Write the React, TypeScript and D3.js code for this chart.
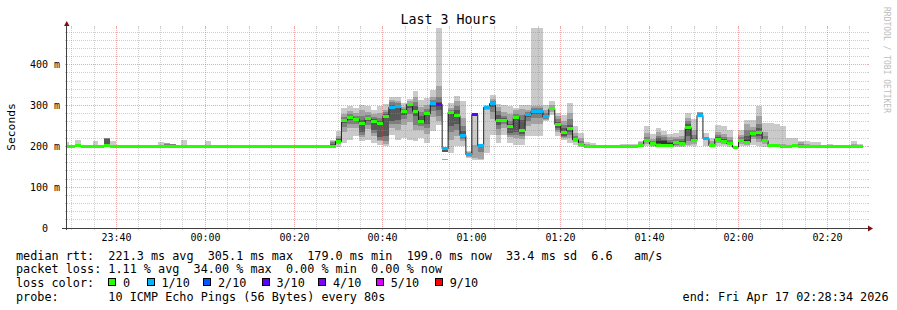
import React from 'react';
import * as d3 from 'd3';

// ---- time frame (UTC so the browser timezone does not matter) ----
const plotStart = new Date(Date.UTC(2026, 3, 16, 23, 28, 55));
const plotEnd = new Date(Date.UTC(2026, 3, 17, 2, 28, 55));
const firstStep = new Date(Date.UTC(2026, 3, 16, 23, 28, 0));
const stepSeconds = 80;

// ---- median rtt per 80 s step (ms) ----
const medianRtt: number[] = [
  199, 199, 202, 199, 199, 199, 199, 202, 199, 199,
  199, 199, 199, 199, 199, 199, 199, 199, 199, 199,
  199, 199, 199, 199, 199, 199, 199, 199, 199, 199,
  199, 199, 199, 199, 199, 199, 199, 199, 199, 199,
  199, 199, 199, 199, 199, 199, 212, 264, 271, 267,
  257, 268, 261, 256, 274, 296, 297, 286, 303, 286,
  261, 280, 304, 303, 194, 283, 275, 227, 180, 278,
  202, 296, 305, 264, 264, 249, 271, 239, 278, 286,
  286, 272, 292, 254, 234, 243, 216, 204, 200, 199,
  199, 199, 199, 199, 199, 199, 199, 201, 214, 206,
  203, 202, 203, 209, 208, 246, 214, 276, 219, 202,
  218, 213, 207, 198, 215, 210, 231, 235, 214, 202,
  203, 200, 200, 201, 199, 199, 199, 199, 199, 199,
  199, 199, 199, 199, 199,
];

// ---- lost pings per step (out of 10) ----
const lossCount: number[] = [
  0, 0, 0, 0, 0, 0, 0, 0, 0, 0,
  0, 0, 0, 0, 0, 0, 0, 0, 0, 0,
  0, 0, 0, 0, 0, 0, 0, 0, 0, 0,
  0, 0, 0, 0, 0, 0, 0, 0, 0, 0,
  0, 0, 0, 0, 0, 0, 0, 0, 0, 0,
  0, 0, 0, 0, 0, 1, 1, 0, 0, 0,
  0, 0, 1, 3, 1, 0, 0, 1, 1, 3,
  1, 1, 1, 0, 0, 0, 0, 0, 1, 1,
  1, 1, 0, 0, 0, 0, 0, 0, 0, 0,
  0, 0, 0, 0, 0, 0, 0, 0, 0, 0,
  0, 0, 0, 0, 0, 0, 0, 1, 1, 0,
  0, 0, 0, 0, 0, 0, 0, 0, 0, 0,
  0, 0, 0, 0, 0, 0, 0, 0, 0, 0,
  0, 0, 0, 0, 0,
];

// ---- sorted ping times per step (ms), null = no visible smoke ----
const pings: (number[] | null)[] = [
  [199, 199, 199, 199, 199, 199, 199, 199, 200, 210],
  [199, 199, 199, 199, 199, 199, 199, 200, 203, 204],
  [199, 200, 200, 201, 202, 203, 203, 204, 205, 216],
  [199, 199, 199, 199, 199, 199, 199, 199, 199, 203],
  null,
  [199, 199, 199, 199, 199, 199, 199, 199, 199, 212],
  [199, 199, 199, 199, 199, 199, 199, 199, 199, 203],
  [199, 199, 200, 202, 202, 203, 219, 220, 221, 221],
  [199, 199, 199, 199, 199, 199, 200, 200, 204, 212],
  null,
  null, null, null, null,
  [199, 199, 199, 199, 199, 199, 199, 199, 199, 203],
  null,
  [199, 199, 199, 199, 199, 199, 199, 199, 199, 210],
  [199, 199, 199, 199, 199, 199, 200, 206, 208, 208],
  [199, 199, 199, 199, 199, 200, 204, 205, 205, 205],
  null,
  [199, 199, 199, 199, 199, 199, 199, 199, 199, 216],
  [199, 199, 199, 199, 199, 199, 199, 199, 199, 203],
  null, null,
  [199, 199, 199, 199, 199, 199, 199, 199, 199, 214],
  [199, 199, 199, 199, 199, 199, 199, 199, 199, 203],
  null, null, null, null,
  null, null, null, null, null, null, null, null, null, null,
  null, null, null, null, null,
  [199, 199, 199, 199, 199, 199, 205, 210, 214, 216],
  [199, 206, 208, 210, 210, 214, 217, 221, 225, 238],
  [208, 236, 248, 257, 262, 266, 268, 272, 279, 294],
  [216, 244, 256, 264, 269, 273, 274, 279, 286, 300],
  [225, 246, 255, 262, 265, 269, 270, 275, 281, 294],
  [212, 222, 228, 235, 255, 259, 264, 275, 288, 302],
  [216, 242, 253, 262, 266, 270, 272, 276, 283, 298],
  [208, 225, 233, 240, 259, 263, 266, 272, 280, 290],
  [203, 212, 216, 222, 254, 258, 262, 270, 282, 300],
  [200, 205, 212, 225, 272, 276, 280, 284, 290, 304],
  [229, 245, 255, 262, 294, 298, 302, 308, 314, 322],
  [216, 240, 255, 265, 295, 299, 302, 306, 312, 320],
  [220, 253, 268, 278, 284, 288, 289, 292, 296, 306],
  [216, 260, 279, 293, 301, 305, 306, 307, 310, 317],
  [214, 240, 253, 274, 284, 288, 298, 308, 320, 335],
  [220, 240, 250, 257, 259, 263, 275, 285, 297, 314],
  [208, 230, 245, 256, 278, 282, 285, 292, 302, 318],
  [238, 271, 286, 296, 302, 306, 308, 314, 321, 339],
  [253, 261, 275, 290, 301, 305, 308, 320, 347, 490],
  [185, 185, 185, 185, 192, 196, 196, 196, 196, 196],
  [184, 215, 235, 250, 281, 285, 286, 289, 294, 306],
  [200, 225, 240, 255, 273, 277, 288, 298, 310, 324],
  [200, 213, 219, 224, 225, 229, 237, 251, 269, 312],
  [172, 175, 177, 178, 179, 181, 182, 184, 186, 188],
  [167, 172, 204, 204, 204, 204, 204, 204, 204, 278],
  [167, 170, 185, 203, 203, 203, 203, 203, 203, 204],
  [184, 290, 292, 294, 295, 297, 298, 299, 300, 302],
  [229, 267, 284, 296, 303, 307, 308, 311, 315, 326],
  [208, 228, 243, 253, 262, 266, 276, 286, 296, 304],
  [229, 246, 254, 260, 262, 266, 269, 275, 283, 302],
  [208, 222, 228, 232, 247, 251, 254, 262, 280, 298],
  [204, 220, 228, 235, 269, 273, 275, 280, 288, 294],
  [204, 218, 225, 230, 237, 241, 265, 278, 292, 302],
  [225, 251, 263, 272, 276, 280, 281, 285, 290, 302],
  [225, 255, 269, 279, 284, 288, 290, 294, 300, 490],
  [225, 255, 269, 279, 284, 288, 290, 294, 300, 490],
  [261, 265, 268, 270, 270, 274, 276, 281, 288, 302],
  [277, 284, 288, 290, 290, 294, 294, 297, 301, 310],
  [225, 235, 240, 244, 252, 256, 260, 266, 274, 282],
  [216, 220, 224, 226, 232, 236, 245, 252, 262, 278],
  [208, 220, 228, 236, 241, 245, 252, 266, 282, 306],
  [204, 210, 213, 214, 214, 218, 220, 225, 233, 249],
  [199, 200, 201, 202, 203, 205, 208, 212, 220, 232],
  [199, 199, 199, 199, 199, 200, 200, 202, 205, 210],
  [199, 199, 199, 199, 199, 199, 199, 199, 204, 208],
  [199, 199, 199, 199, 199, 199, 199, 199, 199, 203],
  [199, 199, 199, 199, 199, 199, 199, 199, 199, 203],
  null, null,
  [199, 199, 199, 199, 199, 199, 199, 199, 199, 206],
  [199, 199, 199, 199, 199, 199, 199, 199, 199, 206],
  [199, 199, 199, 199, 199, 199, 199, 199, 199, 206],
  [199, 199, 200, 200, 201, 202, 204, 206, 210, 214],
  [200, 207, 210, 212, 212, 216, 218, 224, 232, 249],
  [199, 202, 204, 204, 204, 208, 209, 213, 219, 231],
  [199, 200, 201, 203, 208, 214, 220, 226, 234, 245],
  [199, 200, 201, 203, 205, 212, 216, 222, 228, 237],
  [199, 200, 201, 202, 203, 208, 210, 215, 222, 231],
  [199, 202, 204, 206, 207, 211, 213, 217, 222, 233],
  [199, 202, 204, 206, 206, 210, 213, 218, 226, 241],
  [200, 204, 212, 225, 240, 250, 254, 262, 270, 282],
  [200, 207, 210, 212, 212, 216, 220, 228, 240, 266],
  [274, 275, 276, 277, 278, 279, 280, 282, 284, 285],
  [200, 215, 216, 217, 218, 220, 221, 222, 223, 233],
  [199, 200, 201, 202, 202, 204, 205, 207, 212, 220],
  [200, 209, 213, 216, 216, 220, 222, 228, 236, 253],
  [200, 206, 209, 211, 211, 215, 218, 223, 231, 249],
  [199, 203, 204, 205, 205, 209, 211, 216, 223, 239],
  [198, 199, 199, 199, 199, 200, 200, 200, 201, 202],
  [200, 207, 211, 213, 213, 217, 218, 222, 228, 241],
  [201, 204, 207, 209, 209, 215, 225, 240, 255, 265],
  [204, 217, 223, 228, 229, 233, 235, 241, 248, 265],
  [200, 210, 218, 225, 233, 237, 245, 255, 275, 298],
  [199, 206, 210, 212, 212, 216, 219, 226, 236, 257],
  [199, 200, 201, 202, 202, 204, 205, 206, 207, 257],
  [199, 200, 201, 202, 202, 204, 205, 206, 207, 255],
  [199, 199, 200, 200, 200, 202, 203, 204, 205, 249],
  [199, 199, 199, 199, 199, 200, 201, 202, 203, 220],
  [199, 199, 200, 200, 200, 202, 203, 204, 205, 220],
  [199, 199, 199, 199, 199, 200, 202, 205, 210, 214],
  [199, 199, 199, 199, 199, 199, 200, 201, 205, 212],
  [199, 199, 199, 199, 199, 199, 199, 199, 200, 210],
  [199, 199, 199, 199, 199, 199, 199, 199, 200, 210],
  null,
  [199, 199, 199, 199, 199, 199, 199, 199, 199, 206],
  null, null, null,
  [199, 199, 199, 199, 199, 199, 199, 200, 205, 214],
  [199, 199, 199, 199, 199, 199, 199, 199, 199, 206],
];

// single stray ping readings [step, ms]
const strayPings: [number, number][] = [[64, 169]];

// ---- axis / legend text ----
const yMax = 490;
const yLabelValues = [0, 100, 200, 300, 400];
const yLabelTexts = ['0  ', '100 m', '200 m', '300 m', '400 m'];
const lossLevels = [0, 1, 2, 3, 4, 5, 9];
const lossLabels = ['0', '1/10', '2/10', '3/10', '4/10', '5/10', '9/10'];
const lossColors = ['#26ff00', '#00b8ff', '#0059ff', '#5e00ff', '#7e00ff', '#dd00ff', '#ff0000'];
const smokeColors = ['#cacaca', '#a4a4a4', '#7e7e7e', '#585858', '#323232'];

const titleText = 'Last 3 Hours';
const yAxisTitle = 'Seconds';
const medianLine = 'median rtt:  221.3 ms avg  305.1 ms max  179.0 ms min  199.0 ms now  33.4 ms sd  6.6   am/s';
const lossLine = 'packet loss: 1.11 % avg  34.00 % max  0.00 % min  0.00 % now';
const lossColorTitle = 'loss color:';
const probeLine = 'probe:       10 ICMP Echo Pings (56 Bytes) every 80s';
const endLine = 'end: Fri Apr 17 02:28:34 2026';
const watermark = 'RRDTOOL / TOBI OETIKER';

const FONT = "'DejaVu Sans Mono', 'Liberation Mono', monospace";

export default function App() {
  React.useEffect(() => {
    document.body.style.margin = '0';
  }, []);

  const W = 897;
  const H = 310;
  const left = 67;
  const right = 867;
  const top = 28;
  const bottom = 228;

  const x = d3.scaleUtc().domain([plotStart, plotEnd]).range([left, right]);
  const y = d3.scaleLinear().domain([0, yMax]).range([bottom, top]);
  const stepTime = (k: number) => new Date(firstStep.getTime() + k * stepSeconds * 1000);
  const sx = (k: number) => x(stepTime(k));

  const lossColor = (l: number) => {
    const i = lossLevels.findIndex((lv) => l <= lv);
    return lossColors[i < 0 ? lossColors.length - 1 : i];
  };

  const pix = (v: number) => Math.floor(v) + 0.5;

  // grid
  const yGrid = d3.range(20, yMax, 20);
  const xGrid = d3.utcMinute.every(5)!.range(plotStart, plotEnd);
  const fmt = d3.utcFormat('%H:%M');
  const minorCol = 'rgba(140,140,140,0.42)';
  const majorCol = 'rgba(224,80,80,0.5)';

  // median step line
  const medPts: [number, number][] = medianRtt.map((m, k) => [sx(k), y(m)]);
  medPts.push([sx(medianRtt.length), y(medianRtt[medianRtt.length - 1])]);
  const medPath = d3.line().curve(d3.curveStepAfter)(medPts) || '';

  const legendBoxX = [108.3, 146.7, 203.3, 261.7, 318.3, 376, 435];

  return (
    <svg
      width={W}
      height={H}
      style={{ position: 'absolute', left: 0, top: 0, display: 'block', background: '#fff' }}
      fontFamily={FONT}
    >
      <rect x={0} y={0} width={W} height={H} fill="#ffffff" />
      <defs>
        <clipPath id="plotClip">
          <rect x={left} y={top - 2} width={right - left} height={bottom - top + 2} />
        </clipPath>
      </defs>

      {/* smoke */}
      <g clipPath="url(#plotClip)" shapeRendering="crispEdges">
        {pings.map((row, k) =>
          row
            ? smokeColors.map((c, i) => {
                const lo = row[i];
                const hi = row[9 - i];
                if (hi <= lo) return null;
                return (
                  <rect
                    key={`s${k}-${i}`}
                    x={sx(k)}
                    width={sx(k + 1) - sx(k)}
                    y={y(hi)}
                    height={y(lo) - y(hi)}
                    fill={c}
                  />
                );
              })
            : null
        )}
        {strayPings.map(([k, v], i) => (
          <rect key={`st${i}`} x={sx(k)} width={sx(k + 1) - sx(k)} y={y(v) - 0.5} height={1.5} fill="#a4a4a4" />
        ))}
      </g>

      {/* grid */}
      <g>
        {yGrid.map((v) => {
          const gy = pix(y(v));
          const major = v % 100 === 0;
          const col = major ? majorCol : minorCol;
          return (
            <g key={`hy${v}`}>
              <line x1={left} x2={right} y1={gy} y2={gy} stroke={col} strokeDasharray="1,1" />
              <line x1={left - 2} x2={left} y1={gy} y2={gy} stroke={col} />
              <line x1={right} x2={right + 2} y1={gy} y2={gy} stroke={col} />
            </g>
          );
        })}
        {xGrid.map((t) => {
          const gx = pix(x(t));
          const major = t.getUTCMinutes() % 20 === 0;
          const col = major ? majorCol : minorCol;
          return (
            <g key={`vx${t.getTime()}`}>
              <line x1={gx} x2={gx} y1={top} y2={bottom} stroke={col} strokeDasharray="1,1" />
              <line x1={gx} x2={gx} y1={bottom} y2={bottom + 2} stroke={col} />
              <line x1={gx} x2={gx} y1={top - 2} y2={top} stroke={col} />
            </g>
          );
        })}
      </g>

      {/* median */}
      <g clipPath="url(#plotClip)">
        <path d={medPath} fill="none" stroke="#202020" strokeWidth={1} />
        <g shapeRendering="crispEdges">
          {medianRtt.map((m, k) => (
            <rect
              key={`m${k}`}
              x={sx(k)}
              width={sx(k + 1) - sx(k)}
              y={y(m) - 1.5}
              height={3}
              fill={lossColor(lossCount[k])}
            />
          ))}
        </g>
      </g>

      {/* axes */}
      <line x1={66.5} x2={66.5} y1={bottom + 2} y2={24} stroke="#404040" strokeWidth={1} />
      <line x1={62} x2={869} y1={228.5} y2={228.5} stroke="#404040" strokeWidth={1} />
      <polygon points="64,26 69.5,26 66.75,21" fill="#801010" />
      <polygon points="868,225.5 868,231.5 873,228.5" fill="#801010" />

      {/* y labels */}
      <g fontSize={10} fill="#000">
        {yLabelValues.map((v, i) => (
          <text
            key={`yl${v}`}
            x={60}
            y={pix(y(v)) + 3.5}
            textAnchor="end"
            xmlSpace="preserve"
            style={{ whiteSpace: 'pre' }}
          >
            {yLabelTexts[i]}
          </text>
        ))}
      </g>

      {/* x labels */}
      <g fontSize={10} fill="#000">
        {xGrid
          .filter((t) => t.getUTCMinutes() % 20 === 0)
          .map((t) => (
            <text key={`xl${t.getTime()}`} x={pix(x(t))} y={241} textAnchor="middle">
              {fmt(t)}
            </text>
          ))}
      </g>

      {/* title */}
      <text x={448.5} y={24} textAnchor="middle" fontSize={13.3} fill="#000">
        {titleText}
      </text>

      {/* y axis title */}
      <text transform="translate(15,127) rotate(-90)" textAnchor="middle" fontSize={11.3} fill="#000">
        {yAxisTitle}
      </text>

      {/* watermark */}
      <text transform="translate(884,60) rotate(90)" textAnchor="middle" fontSize={8} fill="#bdbdbd">
        {watermark}
      </text>

      {/* legend */}
      <g fontSize={11.8} fill="#000" style={{ whiteSpace: 'pre' }}>
        <text x={16} y={259.5} xmlSpace="preserve">{medianLine}</text>
        <text x={16} y={273} xmlSpace="preserve">{lossLine}</text>
        <text x={16} y={287} xmlSpace="preserve">{lossColorTitle}</text>
        {lossLabels.map((lab, i) => (
          <g key={`lg${i}`}>
            <rect
              x={Math.round(legendBoxX[i]) + 0.5}
              y={278.5}
              width={7}
              height={7}
              fill={lossColors[i]}
              stroke="#000"
              strokeWidth={1}
            />
            <text x={legendBoxX[i] + 14.7} y={287}>{lab}</text>
          </g>
        ))}
        <text x={16} y={301} xmlSpace="preserve">{probeLine}</text>
        <text x={888.5} y={301} textAnchor="end">{endLine}</text>
      </g>
    </svg>
  );
}
